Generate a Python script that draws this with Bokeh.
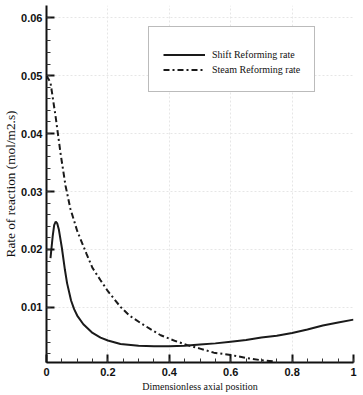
from bokeh.plotting import figure
from bokeh.models import FixedTicker, Legend, LegendItem, Range1d
from bokeh.embed import file_html
from bokeh.resources import INLINE

# Data
shift_x = [0.013, 0.02, 0.025, 0.03, 0.035, 0.04, 0.05, 0.06, 0.067, 0.08, 0.09, 0.1,
           0.12, 0.15, 0.176, 0.2, 0.241, 0.3, 0.35, 0.4, 0.45, 0.5, 0.55, 0.6, 0.65,
           0.7, 0.75, 0.8, 0.85, 0.9, 0.95, 1.0]
shift_y = [0.0185, 0.0222, 0.0242, 0.0248, 0.0245, 0.0235, 0.0203, 0.0165, 0.0142, 0.0112,
           0.0097, 0.0086, 0.0071, 0.0056, 0.0048, 0.0043, 0.0037, 0.0034, 0.0033, 0.0033,
           0.0034, 0.0036, 0.0038, 0.0041, 0.0044, 0.0048, 0.0051, 0.0056, 0.0062, 0.0069,
           0.0074, 0.0079]

steam_x = [0.0, 0.013, 0.03, 0.046, 0.062, 0.078, 0.1, 0.13, 0.15, 0.176, 0.2, 0.241, 0.27,
           0.307, 0.34, 0.372, 0.42, 0.459, 0.5, 0.545, 0.6, 0.65, 0.698, 0.74]
steam_y = [0.050, 0.0488, 0.0428, 0.0365, 0.031, 0.027, 0.0232, 0.0193, 0.0168, 0.0147,
           0.0128, 0.0101, 0.0086, 0.0073, 0.0062, 0.0052, 0.0042, 0.0035, 0.0029, 0.0022,
           0.0018, 0.0013, 0.0009, 0.0007]

x_ticks = [0, 0.2, 0.4, 0.6, 0.8, 1]
x_tick_labels = ["0", "0.2", "0.4", "0.6", "0.8", "1"]
y_ticks = [0.01, 0.02, 0.03, 0.04, 0.05, 0.06]
y_tick_labels = ["0.01", "0.02", "0.03", "0.04", "0.05", "0.06"]
x_minor = [i * 0.05 for i in range(21)]
y_minor = [i * 0.002 for i in range(1, 31)]

series_names = ["Shift Reforming rate", "Steam Reforming rate"]

p = figure(width=363, height=395, output_backend="svg", toolbar_location=None,
           x_range=Range1d(0, 1), y_range=Range1d(0.0005, 0.0621),
           min_border_left=46, min_border_right=10, min_border_top=5, min_border_bottom=33)
p.outline_line_color = None
p.background_fill_color = "white"

r1 = p.line(shift_x, shift_y, line_color="#1a1a1a", line_width=2)
r2 = p.line(steam_x, steam_y, line_color="#1a1a1a", line_width=2, line_dash="6 3 2 3")

for ax, ticks, labels, minor in [(p.xaxis[0], x_ticks, x_tick_labels, x_minor),
                                 (p.yaxis[0], y_ticks, y_tick_labels, y_minor)]:
    ax.ticker = FixedTicker(ticks=ticks, minor_ticks=minor)
    ax.major_label_overrides = {t: l for t, l in zip(ticks, labels)}
    ax.axis_line_width = 2
    ax.axis_line_color = "#111111"
    ax.major_tick_in = 8
    ax.major_tick_out = 0
    ax.minor_tick_in = 4
    ax.minor_tick_out = 0
    ax.major_tick_line_width = 2
    ax.minor_tick_line_width = 1
    ax.major_tick_line_color = "#111111"
    ax.minor_tick_line_color = "#333333"
    ax.major_label_text_font = "Liberation Sans"
    ax.major_label_text_font_style = "bold"
    ax.major_label_text_font_size = "11px"
    ax.major_label_text_color = "#111111"
    ax.axis_label_text_font = "Liberation Serif"
    ax.axis_label_text_font_style = "normal"
    ax.axis_label_text_font_size = "10px"
    ax.axis_label_text_color = "#111111"
    ax.axis_label_standoff = 2

p.xaxis[0].axis_label = "Dimensionless axial position"
p.yaxis[0].axis_label = "Rate of reaction (mol/m2.s)"
p.yaxis[0].axis_label_text_font_size = "13.3px"
p.xaxis[0].major_label_standoff = 5
p.yaxis[0].major_label_standoff = 4
p.yaxis[0].axis_label_standoff = 0

p.xgrid[0].ticker = FixedTicker(ticks=x_ticks)
p.ygrid[0].ticker = FixedTicker(ticks=y_ticks)
for g in (p.xgrid[0], p.ygrid[0]):
    g.grid_line_color = "#e6e6e6"
    g.grid_line_dash = "2 2"
    g.grid_line_width = 1

legend = Legend(items=[LegendItem(label=series_names[0], renderers=[r1]),
                       LegendItem(label=series_names[1], renderers=[r2])],
                location=(102, 270))
legend.title = " "
legend.title_text_font_size = "6px"
legend.title_standoff = 0
legend.padding = 14
legend.margin = 0
legend.spacing = 0
legend.glyph_width = 42
legend.glyph_height = 15
legend.label_height = 15
legend.label_standoff = 7
legend.label_text_font = "Liberation Serif"
legend.label_text_font_size = "10px"
legend.label_text_color = "#111111"
legend.border_line_color = "#777777"
legend.border_line_width = 1.5
legend.background_fill_color = "white"
legend.background_fill_alpha = 1
p.add_layout(legend)

open("out.html", "w").write(file_html(p, INLINE))
